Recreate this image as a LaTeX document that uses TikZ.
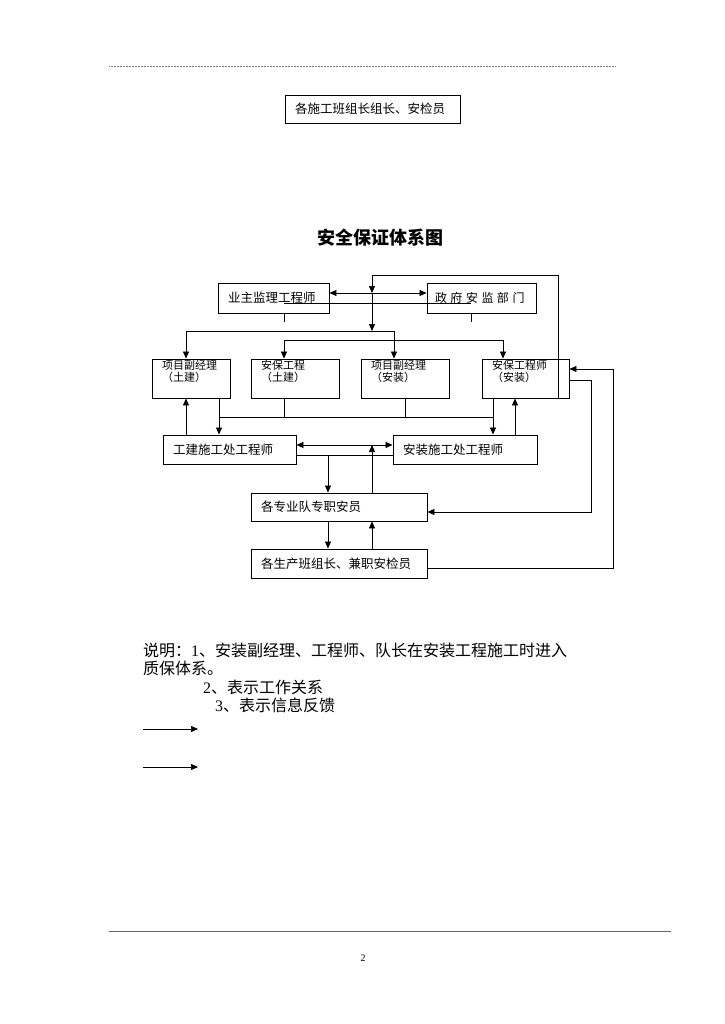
\documentclass[tikz,border=0pt]{standalone}
\usepackage{fontspec}
\setmainfont{Liberation Serif}
\newfontfamily\cjk{Noto Sans CJK SC}
\usetikzlibrary{arrows.meta}

\newcommand{\chgap}{\kern3.5pt}

\begin{document}
\begin{tikzpicture}[
    x=1pt, y=-1pt,
    >={Triangle[length=7pt,width=6pt]},
    box/.style={draw, line width=0.9pt, inner xsep=10pt, inner ysep=0pt,
                align=left, text width=#1,
                font=\cjk\fontsize{12.5}{14}\selectfont},
    unit/.style={draw, line width=0.9pt, inner xsep=10pt, inner ysep=1.25pt,
                 align=left, text width=#1, text height=9.5pt, text depth=27pt,
                 font=\cjk\fontsize{11}{12}\selectfont},
    link/.style={line width=0.7pt},
    arrow/.style={->, line width=0.7pt},
    both/.style={<->, line width=0.7pt},
    note/.style={anchor=west, inner sep=0pt, font=\fontsize{16}{18}\selectfont},
]

\fill[white] (0,0) rectangle (724,1024);
\useasboundingbox (0,0) rectangle (724,1024);

% page header and footer
\draw[gray, line width=0.5pt, dash pattern=on 0.6pt off 0.9pt] (109,66.5) -- (615,66.5);
\draw[black!60, line width=1.5pt] (109,931.5) -- (671,931.5);
\node[font=\fontsize{10}{12}\selectfont] (pageNo) at (363,958) {2};

\node[box=155pt, minimum height=28pt] (teamLead) at (372.5,109) {各施工班组长组长、安检员};

\node[font=\cjk\bfseries\fontsize{18}{20}\selectfont] (title) at (380.5,238) {安全保证体系图};

% upper level
\node[box=91pt, minimum height=30pt] (owner) at (273.5,298) {业主监理工程师};
\node[box=93pt, minimum height=30pt, inner xsep=8pt, font=\cjk\fontsize{12}{14}\selectfont]
    (gov) at (481.5,298) {政\chgap 府\chgap 安\chgap 监\chgap 部\chgap 门};

% managers
\node[unit=58pt] (pmCivil)   at (191,378.5)   {项目副经理\\（土建）};
\node[unit=68pt] (safeCivil) at (295,378.5)   {安保工程\\（土建）};
\node[unit=68pt] (pmInst)    at (405,378.5)   {项目副经理\\（安装）};
\node[unit=67pt] (safeInst)  at (525.5,378.5) {安保工程师\\（安装）};

% site engineers and teams
\node[box=113pt, minimum height=29pt] (engCivil) at (229.5,449.5) {工建施工处工程师};
\node[box=124pt, minimum height=29pt] (engInst)  at (465,449.5)   {安装施工处工程师};
\node[box=156pt, minimum height=28pt] (teamSafe) at (339,507)     {各专业队专职安员};
\node[box=156pt, minimum height=29pt] (crewSafe) at (339,563.5)   {各生产班组长、兼职安检员};

\coordinate (tie) at (372,293);
\coordinate (split) at (372,331);

\draw[both] ([yshift=5pt]owner.east) -- ([yshift=5pt]gov.west);
\draw[link] ([xshift=10.5pt]owner.south) -- ++(0,9);
\draw[link] ([xshift=-10.5pt]gov.south) -- ++(0,9);
\draw[link] ([xshift=10.5pt,yshift=-5pt]owner.center) -- ([xshift=-10.5pt,yshift=-5pt]gov.center);

% feedback over the top
\draw[arrow] ([xshift=-11pt]safeInst.south east) |- ([yshift=18pt]tie) -- (tie);

\draw[arrow] (tie) -- (split);
\draw[arrow] (split) -| ([xshift=-5pt]pmCivil.north);
\draw[arrow] (split) -| ([xshift=-11pt]pmInst.north);
\draw[both] ([xshift=-11pt]safeCivil.north) -- ++(0,-18) -| ([xshift=-22.5pt]safeInst.north);

% bus below the managers
\draw[arrow] ([xshift=28pt]pmCivil.south) -- ([xshift=-10.5pt]engCivil.north);
\draw[arrow] ([xshift=-32.5pt]safeInst.south) -- ([xshift=28pt]engInst.north);
\draw[link] ([xshift=28pt,yshift=-19pt]pmCivil.south) -- ([xshift=-32.5pt,yshift=-19pt]safeInst.south);
\draw[link] ([xshift=-11pt]safeCivil.south) -- ++(0,19);
\draw[link] (pmInst.south) -- ++(0,19);
\draw[arrow] ([xshift=-43.5pt]engCivil.north) -- ([xshift=-5pt]pmCivil.south);
\draw[arrow] ([xshift=50pt]engInst.north) -- ([xshift=-10.5pt]safeInst.south);

\draw[both] ([yshift=4.5pt]engCivil.east) -- ([yshift=4.5pt]engInst.west);
\draw[link] ([yshift=-5.5pt]engCivil.east) -- ([yshift=-5.5pt]engInst.west);
\coordinate (lowBar) at ([yshift=-5.5pt]engCivil.east);
\coordinate (midBar) at ([yshift=4.5pt]engCivil.east);
\coordinate (drop) at ([xshift=-11pt]teamSafe.north);
\coordinate (rise) at ([xshift=33pt]teamSafe.north);
\draw[arrow] (drop |- lowBar) -- (drop);
\draw[arrow] (rise) -- (rise |- midBar);

\draw[arrow] ([xshift=-11pt]teamSafe.south) -- ([xshift=-11pt]crewSafe.north);
\draw[arrow] ([xshift=33pt]crewSafe.north) -- ([xshift=33pt]teamSafe.south);

% feedback on the right
\draw[arrow] ([yshift=-1.5pt]safeInst.east) -- ++(22,0) |- ([yshift=-5pt]teamSafe.east);
\draw[arrow] ([yshift=-4.5pt]crewSafe.east) -- ++(186,0) |- ([yshift=9.5pt]safeInst.east);

% notes
\node[note] (noteA) at (143,650) {{\cjk 说明：}1{\cjk 、安装副经理、工程师、队长在安装工程施工时进入}};
\node[note] (noteB) at (143,668) {\cjk 质保体系。};
\node[note] (noteC) at (203,687) {2{\cjk 、表示工作关系}};
\node[note] (noteD) at (215,705) {3{\cjk 、表示信息反馈}};

\coordinate (keyA0) at (143,729);
\coordinate (keyA1) at (198,729);
\coordinate (keyB0) at (143,767);
\coordinate (keyB1) at (198,767);
\draw[arrow] (keyA0) -- (keyA1);
\draw[arrow] (keyB0) -- (keyB1);

\end{tikzpicture}
\end{document}
